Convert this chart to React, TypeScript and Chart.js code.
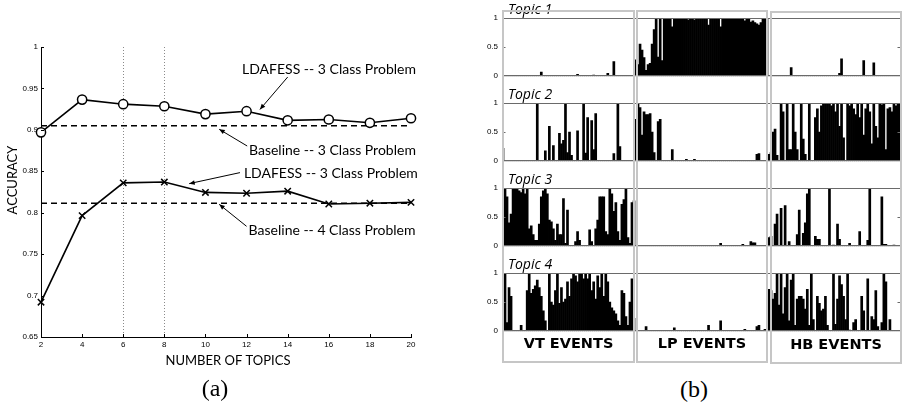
import React, { useEffect, useRef } from "react";
import { Chart, registerables } from "chart.js";
Chart.register(...registerables);

// ---------- (a) accuracy vs number of topics ----------
const topics = [2, 4, 6, 8, 10, 12, 14, 16, 18, 20];
const ldafess3Class = [0.897, 0.9365, 0.931, 0.9285, 0.919, 0.9225, 0.9115, 0.9125, 0.9085, 0.914];
const ldafess4Class = [0.692, 0.7965, 0.836, 0.837, 0.8245, 0.8235, 0.826, 0.8105, 0.8115, 0.8125];
const baseline3Class = 0.905;
const baseline4Class = 0.8115;
const markedTopics = [6, 8];
const annotationTexts = [
  "LDAFESS -- 3 Class Problem",
  "Baseline -- 3 Class Problem",
  "LDAFESS -- 3 Class Problem",
  "Baseline -- 4 Class Problem",
];
// text anchor (left, middle) and arrow tail / head, in data coordinates
const annotationPlaces = [
  { tx: 11.78, ty: 0.973, ax: 14.0, ay: 0.9637, hx: 12.65, hy: 0.9246 },
  { tx: 12.12, ty: 0.8753, ax: 12.03, ay: 0.8805, hx: 10.67, hy: 0.9007 },
  { tx: 11.87, ty: 0.8472, ax: 11.68, ay: 0.8484, hx: 9.21, hy: 0.8351 },
  { tx: 12.1, ty: 0.778, ax: 12.0, ay: 0.7836, hx: 10.67, hy: 0.8101 },
];

// ---------- (b) topic proportions per event ----------
const topicNames = ["Topic 1", "Topic 2", "Topic 3", "Topic 4"];
const groupNames = ["VT EVENTS", "LP EVENTS", "HB EVENTS"];

const topic1VT = [
  0, 0, 0, 0, 0, 0, 0, 0, 0, 0,
  0, 0, 0, 0, 0, 0, 0, 0, 0, 0.07,
  0, 0, 0, 0, 0, 0, 0, 0, 0, 0,
  0, 0, 0, 0, 0, 0, 0, 0.03, 0, 0,
  0, 0, 0, 0, 0, 0.02, 0, 0, 0, 0,
  0, 0, 0.05, 0, 0, 0.25, 0, 0, 0, 0,
  0, 0, 0, 0, 0, 0,
];
const topic1LP = [
  0.28, 0.2, 0.55, 0.45, 0.32, 0.1, 0.2, 0.22, 0.55, 0.8,
  1, 0.33, 1, 0.27, 1, 1, 1, 1, 0.85, 1,
  1, 1, 1, 1, 1, 1, 0.97, 1, 1, 0.97,
  1, 1, 1, 1, 1, 1, 0.88, 1, 1, 1,
  1, 1, 0.85, 1, 1, 1, 1, 1, 1, 1,
  1, 1, 1, 1, 0.95, 1, 1, 0.93, 0.95, 0.92,
  0.9, 0.88, 0.92, 1, 1, 1,
];
const topic1HB = [
  0, 0, 0, 0, 0, 0, 0, 0, 0, 0,
  0, 0.15, 0, 0, 0, 0, 0, 0, 0, 0,
  0, 0, 0, 0, 0, 0, 0, 0, 0, 0,
  0, 0, 0, 0, 0, 0.05, 0.3, 0, 0, 0,
  0, 0, 0, 0, 0, 0, 0, 0.27, 0, 0,
  0, 0, 0.23, 0, 0, 0, 0, 0, 0, 0,
  0, 0, 0, 0, 0, 0,
];
const topic2VT = [
  0.22, 0, 0, 0, 0, 0, 0, 0, 0, 0,
  0, 0, 0, 0, 0, 0, 0, 1, 0, 0,
  0, 0.18, 0, 0.6, 0, 0.27, 0, 0, 0.48, 0.3,
  0.36, 1, 0.15, 0.5, 0.1, 0, 0, 0.52, 0, 0,
  1, 0.14, 0.75, 0, 0.7, 0.2, 0.82, 0, 0, 0,
  0, 0, 0, 0, 0, 0.13, 0, 1, 0.25, 0,
  0, 0, 0, 0, 0, 0,
];
const topic2LP = [
  0.72, 1, 0.92, 0.45, 0.85, 0.8, 0.8, 0.82, 0.5, 0.15,
  0, 0.68, 0.72, 0, 0, 0, 0, 0, 0.2, 0,
  0, 0, 0, 0, 0, 0.03, 0, 0, 0, 0.03,
  0, 0, 0, 0, 0, 0, 0, 0, 0, 0,
  0, 0, 0, 0, 0, 0, 0, 0, 0, 0,
  0, 0, 0, 0, 0, 0, 0, 0, 0, 0,
  0.12, 0.13, 0, 0, 0, 0,
];
const topic2HB = [
  0.12, 0.15, 0.5, 0.55, 0.1, 0, 1, 0.85, 0, 1,
  0.2, 0.2, 1, 0.5, 0.2, 0, 1, 0.38, 0.12, 0,
  1, 0, 0, 0.75, 0.9, 0.5, 0.95, 1, 1, 1,
  1, 0.95, 1, 0.85, 1, 0.6, 1, 0.4, 0, 1,
  0.95, 1, 0.9, 0.8, 1, 0.75, 1, 0.45, 0.9, 1,
  0.85, 0.3, 1, 0.6, 0.4, 1, 0.97, 1, 0.2, 0.9,
  0.92, 0.85, 1, 0.95, 1, 1,
];
const topic3VT = [
  0.72, 1, 0.85, 0.4, 0.55, 1, 1, 1, 0.95, 0.92,
  1, 0.9, 1, 0.3, 0.35, 0.2, 0.1, 0.1, 0.38, 0.85,
  0.95, 1, 0.9, 0.45, 0.42, 0.3, 0.1, 0.38, 0.2, 0.2,
  0.82, 0.05, 0.62, 0, 0, 0, 0.08, 0.25, 0.1, 0,
  0, 0, 0, 0.28, 0.08, 0, 0.3, 0.45, 0.85, 0.85,
  0.85, 0.25, 0.2, 1, 0.9, 0.6, 0.75, 0.25, 0.1, 0.72,
  0.8, 0.98, 0.15, 0.05, 0.75, 0.78,
];
const topic3LP = [
  0, 0, 0, 0, 0, 0, 0, 0, 0, 0,
  0, 0, 0, 0, 0, 0, 0, 0, 0, 0,
  0, 0, 0, 0, 0, 0, 0, 0, 0, 0,
  0, 0, 0, 0, 0, 0, 0, 0, 0, 0,
  0, 0, 0.05, 0, 0, 0, 0, 0, 0, 0,
  0, 0, 0, 0.03, 0, 0, 0, 0.08, 0.06, 0.06,
  0, 0, 0, 0, 0, 0,
];
const topic3HB = [
  0.15, 0.17, 0, 0.38, 0.55, 0, 0.65, 0, 0.7, 0,
  0.08, 0, 0, 0, 0.2, 0.62, 0, 0.22, 0.4, 0.9,
  1, 0, 0, 0.17, 0.12, 0.12, 0, 0, 0, 0,
  1, 0, 0.02, 0, 0.38, 0.12, 0, 0, 0, 0,
  0.05, 0, 0, 0, 0, 0.25, 0, 0, 0, 0.1,
  1, 0, 0, 0, 0, 0, 0.85, 0.03, 0.03, 0,
  0, 0, 0.02, 0, 0, 0,
];
const topic4VT = [
  0.78, 1, 0.15, 0.75, 0.6, 0, 0, 0, 0, 0.1,
  0, 0, 0.7, 1, 0.65, 0.72, 0.78, 0.88, 0.75, 0.6,
  0.35, 0.18, 0, 1, 0.5, 0.45, 0.7, 1, 0.48, 0.75,
  0.5, 0.55, 0.85, 0.6, 0.9, 1, 0.95, 0.85, 1, 1,
  0.9, 1, 0.9, 1, 0.7, 0.85, 0.55, 0.95, 0.75, 1,
  0.6, 1, 0.85, 0.5, 0.4, 0.35, 0.3, 0.18, 0.1, 0.7,
  0.65, 0.25, 0.1, 0.5, 0.9, 0.22,
];
const topic4LP = [
  0, 0, 0, 0, 0, 0.08, 0, 0, 0, 0,
  0, 0, 0, 0, 0, 0, 0, 0, 0, 0.06,
  0, 0, 0, 0, 0, 0, 0, 0, 0, 0,
  0, 0, 0, 0, 0, 0, 0.1, 0, 0, 0,
  0, 0, 0.18, 0, 0, 0, 0, 0, 0, 0,
  0, 0, 0, 0, 0.03, 0, 0, 0, 0, 0,
  0.08, 0.1, 0, 0, 0.03, 0,
];
const topic4HB = [
  0.72, 0.7, 0.55, 0.65, 1, 0.45, 1, 0.3, 0.75, 1,
  0.18, 0.88, 1, 0.1, 0.55, 0.6, 0.6, 0.55, 0.38, 0.72,
  0.1, 1, 0.2, 0, 0.6, 0.48, 0.35, 0.38, 0.6, 0.1,
  0, 0, 1, 0.12, 0.55, 0.95, 0.8, 0.6, 0.2, 1,
  0.02, 0, 0.15, 0.2, 0, 0, 0.6, 0.35, 0, 0.9,
  0, 0.25, 0.2, 0.7, 0.08, 0, 0.15, 1, 0.85, 0,
  0.2, 0, 0, 0, 0, 0,
];

const topicSeries = [
  [...topic1VT, ...topic1LP, ...topic1HB],
  [...topic2VT, ...topic2LP, ...topic2HB],
  [...topic3VT, ...topic3LP, ...topic3HB],
  [...topic4VT, ...topic4LP, ...topic4HB],
];

const ANNOT_FONT = '14px Lato';
const TICK_FONT_FAMILY = '"Liberation Sans", Arial, sans-serif';

function AccuracyChart() {
  const ref = useRef<HTMLCanvasElement | null>(null);
  useEffect(() => {
    const canvas = ref.current;
    if (!canvas) return;
    const decor = {
      id: "decor",
      beforeDatasetsDraw(chart: any) {
        const { ctx, chartArea, scales } = chart;
        ctx.save();
        ctx.strokeStyle = "#8a8a8a";
        ctx.lineWidth = 1;
        ctx.setLineDash([1, 2]);
        for (const t of markedTopics) {
          const x = Math.round(scales.x.getPixelForValue(t)) + 0.5;
          ctx.beginPath();
          ctx.moveTo(x, chartArea.top);
          ctx.lineTo(x, chartArea.bottom);
          ctx.stroke();
        }
        ctx.restore();
      },
      afterDraw(chart: any) {
        const { ctx, chartArea, scales } = chart;
        const xs = scales.x;
        const ys = scales.y;
        ctx.save();
        // inward ticks
        ctx.strokeStyle = "#000";
        ctx.lineWidth = 1;
        for (const t of ys.ticks) {
          const y = Math.round(ys.getPixelForValue(t.value)) + 0.5;
          ctx.beginPath();
          ctx.moveTo(chartArea.left, y);
          ctx.lineTo(chartArea.left + 3, y);
          ctx.stroke();
        }
        for (const t of xs.ticks) {
          const x = Math.round(xs.getPixelForValue(t.value)) + 0.5;
          ctx.beginPath();
          ctx.moveTo(x, chartArea.bottom);
          ctx.lineTo(x, chartArea.bottom - 3);
          ctx.stroke();
        }
        // annotations
        ctx.fillStyle = "#000";
        ctx.font = ANNOT_FONT;
        ctx.textBaseline = "middle";
        ctx.textAlign = "left";
        annotationTexts.forEach((text, i) => {
          const p = annotationPlaces[i];
          ctx.fillText(text, xs.getPixelForValue(p.tx), ys.getPixelForValue(p.ty));
          const x1 = xs.getPixelForValue(p.ax);
          const y1 = ys.getPixelForValue(p.ay);
          const x2 = xs.getPixelForValue(p.hx);
          const y2 = ys.getPixelForValue(p.hy);
          ctx.lineWidth = 1;
          ctx.beginPath();
          ctx.moveTo(x1, y1);
          ctx.lineTo(x2, y2);
          ctx.stroke();
          const ang = Math.atan2(y2 - y1, x2 - x1);
          const L = 6;
          ctx.beginPath();
          ctx.moveTo(x2, y2);
          ctx.lineTo(x2 - L * Math.cos(ang - 0.4), y2 - L * Math.sin(ang - 0.4));
          ctx.lineTo(x2 - L * Math.cos(ang + 0.4), y2 - L * Math.sin(ang + 0.4));
          ctx.closePath();
          ctx.fill();
        });
        // axis titles
        ctx.font = "13px Lato";
        ctx.textAlign = "center";
        ctx.fillText("NUMBER OF TOPICS", (chartArea.left + chartArea.right) / 2 + 2, 361);
        ctx.translate(12.5, 180);
        ctx.rotate(-Math.PI / 2);
        ctx.fillText("ACCURACY", 0, 0);
        ctx.restore();
      },
    };
    const pts = (ys: number[]) => topics.map((t, i) => ({ x: t, y: ys[i] }));
    const flat = (v: number) => [
      { x: topics[0], y: v },
      { x: topics[topics.length - 1], y: v },
    ];
    const chart = new Chart(canvas, {
      type: "line",
      data: {
        datasets: [
          {
            data: pts(ldafess3Class),
            borderColor: "#000",
            borderWidth: 1.6,
            pointStyle: "circle",
            pointRadius: 4.6,
            pointBackgroundColor: "#fff",
            pointBorderColor: "#000",
            pointBorderWidth: 1.5,
            clip: false,
          } as any,
          {
            data: pts(ldafess4Class),
            borderColor: "#000",
            borderWidth: 1.6,
            pointStyle: "crossRot",
            pointRadius: 4.5,
            pointBorderColor: "#000",
            pointBorderWidth: 1.5,
            clip: false,
          },
          {
            data: flat(baseline3Class),
            borderColor: "#000",
            borderWidth: 1.5,
            borderDash: [6, 4],
            pointRadius: 0,
            clip: false,
          },
          {
            data: flat(baseline4Class),
            borderColor: "#000",
            borderWidth: 1.5,
            borderDash: [6, 4],
            pointRadius: 0,
            clip: false,
          },
        ],
      },
      options: {
        animation: false,
        responsive: false,
        events: [],
        layout: { padding: { top: 47, right: 19, left: 0, bottom: 0 } },
        plugins: { legend: { display: false }, tooltip: { enabled: false } },
        scales: {
          x: {
            type: "linear",
            min: 2,
            max: 20,
            ticks: { stepSize: 2, color: "#000", padding: 3, font: { size: 8, family: TICK_FONT_FAMILY } },
            grid: { display: false, drawTicks: false, tickLength: 0 },
            border: { display: true, color: "#000", width: 1 },
            afterFit: (s: any) => {
              s.height = 66;
            },
          },
          y: {
            type: "linear",
            min: 0.65,
            max: 1,
            ticks: {
              stepSize: 0.05,
              color: "#000",
              padding: 3,
              font: { size: 8, family: TICK_FONT_FAMILY },
              callback: (v: any) => String(Math.round(Number(v) * 100) / 100),
            },
            grid: { display: false, drawTicks: false, tickLength: 0 },
            border: { display: true, color: "#000", width: 1 },
            afterFit: (s: any) => {
              s.width = 41;
            },
          },
        },
      },
      plugins: [decor],
    });
    return () => chart.destroy();
  }, []);
  return (
    <canvas
      ref={ref}
      width={430}
      height={403}
      style={{ position: "absolute", left: 0, top: 0, width: 430, height: 403 }}
    />
  );
}

function TopicChart({ index, top }: { index: number; top: number }) {
  const ref = useRef<HTMLCanvasElement | null>(null);
  useEffect(() => {
    const canvas = ref.current;
    if (!canvas) return;
    const values = topicSeries[index];
    const frame = {
      id: "frame",
      afterDraw(chart: any) {
        const { ctx, chartArea, scales } = chart;
        ctx.save();
        ctx.strokeStyle = "#6a6a6a";
        ctx.lineWidth = 1;
        const l = Math.round(chartArea.left) + 0.5;
        const r = Math.round(chartArea.right) - 0.5;
        const t = Math.round(chartArea.top) + 0.5;
        const b = Math.round(chartArea.bottom) - 0.5;
        ctx.strokeRect(l, t, r - l, b - t);
        const y5 = Math.round(scales.y.getPixelForValue(0.5)) + 0.5;
        ctx.beginPath();
        ctx.moveTo(l, y5);
        ctx.lineTo(l + 3, y5);
        ctx.moveTo(r, y5);
        ctx.lineTo(r - 3, y5);
        ctx.stroke();
        ctx.fillStyle = "#000";
        ctx.font = 'italic 14px "Open Sans"';
        ctx.textAlign = "left";
        ctx.textBaseline = "alphabetic";
        ctx.fillText(topicNames[index], chartArea.left + 6, chartArea.top - 4);
        ctx.restore();
      },
    };
    const chart = new Chart(canvas, {
      type: "bar",
      data: {
        labels: values.map((_, i) => String(i + 1)),
        datasets: [
          {
            data: values,
            backgroundColor: "#000",
            borderWidth: 0,
            barPercentage: 1,
            categoryPercentage: 1,
          },
        ],
      },
      options: {
        animation: false,
        responsive: false,
        events: [],
        layout: { padding: { top: 18, right: 1, left: 0, bottom: 6 } },
        plugins: { legend: { display: false }, tooltip: { enabled: false } },
        scales: {
          x: { display: false },
          y: {
            min: 0,
            max: 1,
            ticks: {
              stepSize: 0.5,
              color: "#000",
              padding: 4,
              font: { size: 8, family: TICK_FONT_FAMILY },
              callback: (v: any) => String(Number(v)),
            },
            grid: { display: false, drawTicks: false, tickLength: 0 },
            border: { display: false },
            afterFit: (s: any) => {
              s.width = 32;
            },
          },
        },
      },
      plugins: [frame],
    });
    return () => chart.destroy();
  }, [index]);
  return (
    <canvas
      ref={ref}
      width={432}
      height={85}
      style={{ position: "absolute", left: 470, top: top - 18, width: 432, height: 85 }}
    />
  );
}

const topicTops = [18, 103, 188, 273];
const groupBoxes = [
  { left: 502, top: 10, width: 133, height: 353 },
  { left: 636, top: 10, width: 132, height: 353 },
  { left: 770, top: 11, width: 132, height: 353 },
];

export default function App() {
  return (
    <div
      style={{
        position: "absolute",
        left: 0,
        top: 0,
        width: 902,
        height: 403,
        background: "#fff",
        overflow: "hidden",
      }}
    >
      <AccuracyChart />
      {topicNames.map((_, i) => (
        <TopicChart key={i} index={i} top={topicTops[i]} />
      ))}
      {groupNames.map((name, i) => {
        const b = groupBoxes[i];
        return (
          <div
            key={name}
            style={{
              position: "absolute",
              left: b.left,
              top: b.top,
              width: b.width,
              height: b.height,
              border: "2px solid #c6c6c6",
              boxSizing: "border-box",
              pointerEvents: "none",
            }}
          >
            <div
              style={{
                position: "absolute",
                left: 0,
                right: 0,
                bottom: 2,
                height: 24,
                lineHeight: "24px",
                textAlign: "center",
                font: 'bold 14.5px "DejaVu Sans"',
                color: "#000",
              }}
            >
              {name}
            </div>
          </div>
        );
      })}
      <div
        style={{
          position: "absolute",
          left: 165,
          width: 100,
          top: 373,
          textAlign: "center",
          font: '24px "Liberation Serif"',
          lineHeight: "30px",
        }}
      >
        (a)
      </div>
      <div
        style={{
          position: "absolute",
          left: 644,
          width: 100,
          top: 374,
          textAlign: "center",
          font: '24px "Liberation Serif"',
          lineHeight: "30px",
        }}
      >
        (b)
      </div>
    </div>
  );
}
